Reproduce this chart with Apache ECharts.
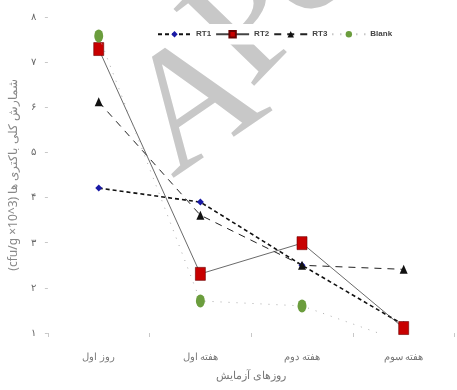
<!DOCTYPE html>
<html>
<head>
<meta charset="utf-8">
<script src="https://cdn.jsdelivr.net/npm/echarts@6/dist/echarts.min.js"></script>
<style>
  html, body { margin: 0; padding: 0; background: #ffffff; }
  #chart { width: 457px; height: 390px; }
</style>
</head>
<body>
<div id="chart"></div>
<script>
// Sampling days
const days = ['روز اول', 'هفته اول', 'هفته دوم', 'هفته سوم'];

// Total bacterial count per treatment (×10^3 cfu/g)
const rt1 = [4.21, 3.9, 2.5, 1.18];
const rt2 = [7.29, 2.31, 2.99, 1.11];
const rt3 = [6.12, 3.61, 2.5, 2.41];
const blank = [7.58, 1.71, 1.6, 0.8];

// Y tick labels in Persian digits for values 1..8
const yTickLabels = ['۱', '۲', '۳', '۴', '۵', '۶', '۷', '۸'];

const chart = echarts.init(document.getElementById('chart'), null, { renderer: 'canvas' });

// Gray stamp letters behind the plot
function stampLetter(ch, x, y, rot, size) {
  return {
    type: 'text',
    z: -10,
    silent: true,
    x: x,
    y: y,
    rotation: rot,
    style: {
      text: ch,
      fontFamily: 'Liberation Serif',
      fontSize: size,
      fill: '#c8c8c8',
      align: 'left',
      verticalAlign: 'middle'
    }
  };
}

const option = {
  backgroundColor: '#ffffff',
  animation: false,
  graphic: [
    stampLetter('A', 147, 142, 0.6, 170),
    stampLetter('P', 218, 59, 0.8, 170),
    stampLetter('C', 285, 4, 0.8, 120)
  ],
  legend: {
    left: 153,
    top: 24,
    backgroundColor: '#ffffff',
    padding: [6, 4, 6, 4],
    itemWidth: 33,
    itemHeight: 8,
    itemGap: 4,
    textStyle: { fontSize: 8, fontWeight: 'bold', color: '#444', fontFamily: 'Liberation Sans' },
    data: ['RT1', 'RT2', 'RT3', 'Blank']
  },
  grid: { left: 42.5, right: 2.5, top: 17, bottom: 57 },
  xAxis: {
    type: 'category',
    data: days,
    boundaryGap: true,
    axisLine: { show: false },
    axisTick: { show: true, length: 4, lineStyle: { color: '#c8c8c8' } },
    axisLabel: { fontSize: 10, color: '#777', margin: 19, fontFamily: 'Noto Sans' },
    name: 'روزهای آزمایش',
    nameLocation: 'middle',
    nameGap: 37,
    nameTextStyle: { fontSize: 11, color: '#777', fontFamily: 'Noto Sans' }
  },
  yAxis: {
    type: 'value',
    min: 1,
    max: 8,
    interval: 1,
    splitLine: { show: false },
    axisLine: { show: false },
    axisTick: { show: true, length: 3, lineStyle: { color: '#c8c8c8' } },
    axisLabel: {
      fontSize: 10,
      color: '#666',
      margin: 12,
      fontFamily: 'Noto Sans',
      formatter: v => yTickLabels[v - 1]
    },
    name: '(cfu/g ×10^3) شمارش کلی باکتری ها',
    nameLocation: 'middle',
    nameGap: 25,
    nameTextStyle: { fontSize: 12, color: '#888', fontFamily: 'Noto Sans' }
  },
  series: [
    {
      name: 'RT1',
      type: 'line',
      data: rt1,
      z: 3,
      symbol: 'diamond',
      symbolSize: 7,
      itemStyle: { color: '#1a1aa6' },
      lineStyle: { color: '#111', width: 1.6, type: [4, 3] }
    },
    {
      name: 'RT2',
      type: 'line',
      data: rt2,
      z: 5,
      symbol: 'rect',
      symbolSize: [10, 13],
      itemStyle: { color: '#c80000', borderColor: '#6a0000', borderWidth: 0.6 },
      lineStyle: { color: '#444', width: 0.8, type: 'solid' }
    },
    {
      name: 'RT3',
      type: 'line',
      data: rt3,
      z: 4,
      symbol: 'triangle',
      symbolSize: [8, 9],
      itemStyle: { color: '#111' },
      lineStyle: { color: '#222', width: 1, type: [7, 6] }
    },
    {
      name: 'Blank',
      type: 'line',
      data: blank,
      z: 6,
      clip: true,
      symbol: 'circle',
      symbolSize: [9, 13],
      itemStyle: { color: '#6b9d3d' },
      lineStyle: { color: '#aaa', width: 1, type: [1, 7] }
    }
  ]
};

chart.setOption(option);
</script>
</body>
</html>
